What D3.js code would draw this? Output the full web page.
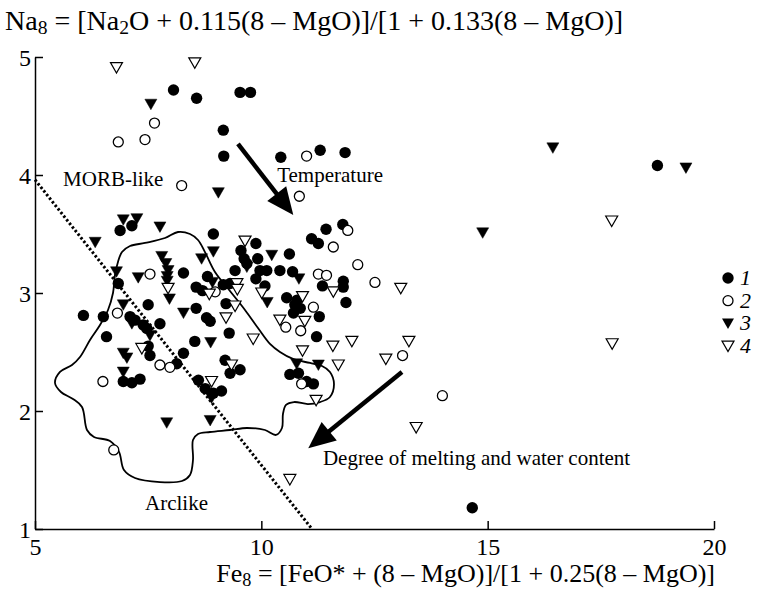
<!DOCTYPE html>
<html>
<head>
<meta charset="utf-8">
<script src="https://cdn.jsdelivr.net/npm/d3@7"></script>
<style>
  html, body { margin: 0; padding: 0; background: #fff; }
  svg { display: block; }
  svg text { font-family: "Liberation Serif", "Times New Roman", serif; fill: #000; }
</style>
</head>
<body>
<svg id="chart" width="783" height="591"></svg>
<script>
// Fe8 / Na8 values for the four sample groups
const group1 = [ // filled circles
  [8.06,4.72],[8.57,4.65],[9.53,4.70],[9.76,4.70],[9.16,4.38],[9.17,4.16],[10.43,4.15],[11.30,4.21],[11.85,4.19],[18.75,4.08],[14.66,1.18],
  [11.43,3.54],[11.80,3.58],[11.11,3.46],[11.26,3.42],
  [8.94,3.50],[9.88,3.42],[9.55,3.36],[9.62,3.29],[9.68,3.25],[9.92,3.29],[10.62,3.33],
  [9.42,3.19],[9.97,3.19],[10.12,3.19],[9.88,3.12],[10.08,3.06],[10.41,3.19],[10.69,3.18],
  [8.28,3.17],[8.81,3.14],[8.56,3.05],[8.70,3.02],[9.16,3.07],[9.31,3.08],[9.22,2.91],
  [10.56,2.96],[10.74,2.90],[10.86,2.87],[10.71,2.83],[10.79,2.94],
  [11.28,2.80],[11.35,3.06],[11.81,3.10],[11.81,3.05],[11.87,2.92],
  [8.56,2.87],[8.79,2.79],[8.87,2.76],[9.29,2.66],[11.22,2.63],[8.53,2.59],
  [6.88,3.53],[7.14,3.57],[6.84,3.08],
  [6.07,2.81],[6.51,2.80],[7.50,2.90],[7.10,2.80],[7.21,2.77],[7.39,2.73],[7.47,2.70],[7.76,2.74],
  [6.58,2.63],[7.50,2.55],[7.54,2.47],[8.28,2.49],[8.13,2.40],[9.20,2.43],[9.31,2.32],[9.53,2.35],
  [6.95,2.25],[7.14,2.24],[7.32,2.27],
  [8.61,2.26],[8.76,2.19],[8.94,2.15],[9.12,2.17],
  [10.63,2.31],[10.82,2.32],[11.00,2.25],[11.15,2.23]
];
const group2 = [ // open circles
  [7.64,4.44],[7.43,4.30],[6.84,4.28],[8.24,3.91],[11.00,4.16],[10.84,3.82],[11.91,3.53],[11.59,3.39],[12.13,3.24],[12.51,3.09],[13.12,2.47],[14.00,2.13],
  [8.98,3.01],[11.15,2.88],[11.26,3.16],[11.44,3.15],[10.54,2.71],[10.87,2.68],[10.89,2.23],
  [7.54,3.16],[6.82,2.83],[7.76,2.39],[7.98,2.37],[6.50,2.25],[6.74,1.67]
];
const group3 = [ // filled triangles
  [7.56,4.60],[9.05,3.85],[16.44,4.23],[19.38,4.06],[14.89,3.51],
  [8.94,3.35],[8.68,3.29],[9.68,3.22],[10.23,3.32],[10.83,3.12],[8.92,3.09],[10.13,2.92],[8.28,2.83],[8.88,2.58],
  [6.33,3.43],[6.95,3.62],[7.25,3.63],[7.76,3.56],[7.80,3.31],[7.89,3.25],[7.94,3.19],[6.80,3.18],[7.28,3.13],[7.92,3.14],[7.92,3.10],[7.97,2.95],
  [6.95,2.90],[7.14,2.74],[7.54,2.64],[6.95,2.49],[7.03,2.45],[6.95,2.33],[8.90,2.11],[7.91,1.90],[8.87,1.92],[10.78,2.40],[11.26,2.39]
];
const group4 = [ // open triangles
  [6.80,4.91],[8.53,4.95],[17.74,3.61],[13.08,3.04],[17.75,2.57],[13.26,2.59],[12.75,2.44],[13.42,1.86],[10.63,1.42],
  [9.64,3.44],[8.85,2.99],[9.46,3.08],[9.47,3.03],[9.42,2.89],[10.01,3.00],[10.91,2.97],[11.59,3.01],[9.22,2.79],[9.82,2.61],
  [10.41,2.77],[10.96,2.76],[10.91,2.51],[11.58,2.55],[12.00,2.59],[11.70,2.39],[11.21,2.09],
  [7.94,3.04],[7.36,2.53],[9.34,2.39],[8.90,2.25]
];

// outline of the arc-like field
const arcField = [
  [6.833,3.263],[6.922,3.347],[7.099,3.398],[7.430,3.424],[7.872,3.466],[8.159,3.517],[8.424,3.500],[8.601,3.449],
  [8.755,3.347],[8.976,3.178],[9.307,3.017],[9.639,2.856],[9.926,2.703],[10.191,2.568],[10.412,2.500],[10.699,2.441],
  [11.075,2.407],[11.340,2.381],[11.516,2.331],[11.605,2.229],[11.516,2.119],[11.296,2.076],[11.031,2.059],[10.721,2.076],
  [10.545,2.051],[10.478,1.975],[10.456,1.856],[10.324,1.797],[10.081,1.839],[9.683,1.856],[9.307,1.839],[8.866,1.822],
  [8.601,1.805],[8.490,1.754],[8.490,1.585],[8.424,1.458],[8.247,1.407],[7.761,1.398],[7.209,1.432],[6.966,1.500],
  [6.856,1.653],[6.657,1.746],[6.303,1.780],[6.149,1.839],[6.038,2.034],[5.839,2.102],[5.574,2.161],[5.442,2.237],
  [5.552,2.331],[5.817,2.390],[5.994,2.458],[6.215,2.602],[6.436,2.729],[6.613,2.856],[6.723,3.000],[6.767,3.153]
];

// MORB / arc dividing line
const divider = [[5.0,3.96],[11.12,1.0]];

// trend arrows: [from, to]
const arrowTemperature = [[9.484,4.263],[10.706,3.661]];
const arrowMelting = [[13.107,2.331],[11.037,1.684]];

const xTicks = [5,10,15,20];
const yTicks = [1,2,3,4,5];
const legendLabels = ["1","2","3","4"];

const serif = "'Liberation Serif', 'Times New Roman', serif";
const svg = d3.select("#chart");
const x = d3.scaleLinear().domain([5,20]).range([35,714]);
const y = d3.scaleLinear().domain([1,5]).range([529,57]);

// axes
const gx = svg.append("g").attr("transform", `translate(0,${y(1)})`)
  .call(d3.axisBottom(x).tickValues(xTicks).tickSize(-8).tickSizeOuter(0).tickPadding(9).tickFormat(d3.format("d")));
const gy = svg.append("g").attr("transform", `translate(${x(5)},0)`)
  .call(d3.axisLeft(y).tickValues(yTicks).tickSize(-8).tickSizeOuter(0).tickPadding(4).tickFormat(d3.format("d")));
[gx, gy].forEach(g => {
  g.attr("font-family", null);
  g.selectAll("path.domain").attr("stroke", "#000").attr("stroke-width", 1.5);
  g.selectAll(".tick line").attr("stroke", "#000").attr("stroke-width", 1.5);
  g.selectAll(".tick text").style("font-family", serif).attr("font-size", 24).attr("fill", "#000");
});
gy.selectAll(".tick text").attr("dy", "0.34em");

// arc-like field outline
svg.append("path")
  .attr("d", d3.line().x(d => x(d[0])).y(d => y(d[1])).curve(d3.curveCatmullRomClosed.alpha(0.5))(arcField))
  .attr("fill", "none").attr("stroke", "#000").attr("stroke-width", 1.8);

// dotted divider
svg.append("path")
  .attr("d", d3.line().x(d => x(d[0])).y(d => y(d[1]))(divider))
  .attr("fill", "none").attr("stroke", "#000").attr("stroke-width", 3)
  .attr("stroke-dasharray", "2.4 2.2");

// markers
const tri = "M-6,-5L6,-5L0,5.5Z";
function circles(data, open) {
  svg.append("g").selectAll("circle").data(data).join("circle")
    .attr("cx", d => x(d[0])).attr("cy", d => y(d[1]))
    .attr("r", open ? 5 : 5.7)
    .attr("fill", open ? "#fff" : "#000")
    .attr("stroke", "#000").attr("stroke-width", open ? 1.3 : 0);
}
function triangles(data, open) {
  svg.append("g").selectAll("path").data(data).join("path")
    .attr("d", tri)
    .attr("transform", d => `translate(${x(d[0])},${y(d[1])})`)
    .attr("fill", open ? "#fff" : "#000")
    .attr("stroke", "#000").attr("stroke-width", open ? 1.2 : 0.5);
}
circles(group1, false);
triangles(group3, false);
circles(group2, true);
triangles(group4, true);

// arrows
function arrow(a) {
  const x0 = x(a[0][0]), y0 = y(a[0][1]), x1 = x(a[1][0]), y1 = y(a[1][1]);
  const len = Math.hypot(x1 - x0, y1 - y0), ux = (x1 - x0) / len, uy = (y1 - y0) / len;
  const hl = 27, hw = 12;
  const bx = x1 - ux * hl, by = y1 - uy * hl;
  svg.append("line").attr("x1", x0).attr("y1", y0).attr("x2", bx + ux * 2).attr("y2", by + uy * 2)
    .attr("stroke", "#000").attr("stroke-width", 4.5);
  svg.append("path")
    .attr("d", `M${x1},${y1}L${bx - uy * hw},${by + ux * hw}L${bx + uy * hw},${by - ux * hw}Z`)
    .attr("fill", "#000");
}
arrow(arrowTemperature);
arrow(arrowMelting);

// annotations
const notes = [
  {t: "MORB-like", p: [5.62, 3.91]},
  {t: "Temperature", p: [10.35, 3.94]},
  {t: "Degree of melting and water content", p: [11.36, 1.54]},
  {t: "Arclike", p: [7.43, 1.16]}
];
svg.append("g").selectAll("text").data(notes).join("text")
  .attr("x", d => x(d.p[0])).attr("y", d => y(d.p[1]))
  .attr("font-size", 21).text(d => d.t);

// axis titles with subscripts
function richText(sel, parts) {
  parts.forEach(p => {
    const ts = sel.append("tspan").text(p[0]);
    if (p[1]) ts.attr("font-size", "70%").attr("baseline-shift", "-22%");
  });
}
const yTitle = svg.append("text").attr("x", 5).attr("y", 30).attr("font-size", 28);
richText(yTitle, [["Na"],["8",1],[" = [Na"],["2",1],["O + 0.115(8 \u2013 MgO)]/[1 + 0.133(8 \u2013 MgO)]"]]);
const xTitle = svg.append("text").attr("x", 715).attr("y", 582).attr("font-size", 26).attr("text-anchor", "end");
richText(xTitle, [["Fe"],["8",1],[" = [FeO* + (8 \u2013 MgO)]/[1 + 0.25(8 \u2013 MgO)]"]]);

// legend
const legend = svg.append("g").attr("transform", "translate(728,278)");
legendLabels.forEach((lab, i) => {
  const g = legend.append("g").attr("transform", `translate(0,${i * 22.7})`);
  if (i === 0) g.append("circle").attr("r", 5.7).attr("fill", "#000");
  if (i === 1) g.append("circle").attr("r", 5).attr("fill", "#fff").attr("stroke", "#000").attr("stroke-width", 1.3);
  if (i === 2) g.append("path").attr("d", tri).attr("fill", "#000");
  if (i === 3) g.append("path").attr("d", tri).attr("fill", "#fff").attr("stroke", "#000").attr("stroke-width", 1.2);
  g.append("text").attr("x", 12).attr("y", 7).attr("font-size", 22).attr("font-style", "italic").text(lab);
});
</script>
</body>
</html>
